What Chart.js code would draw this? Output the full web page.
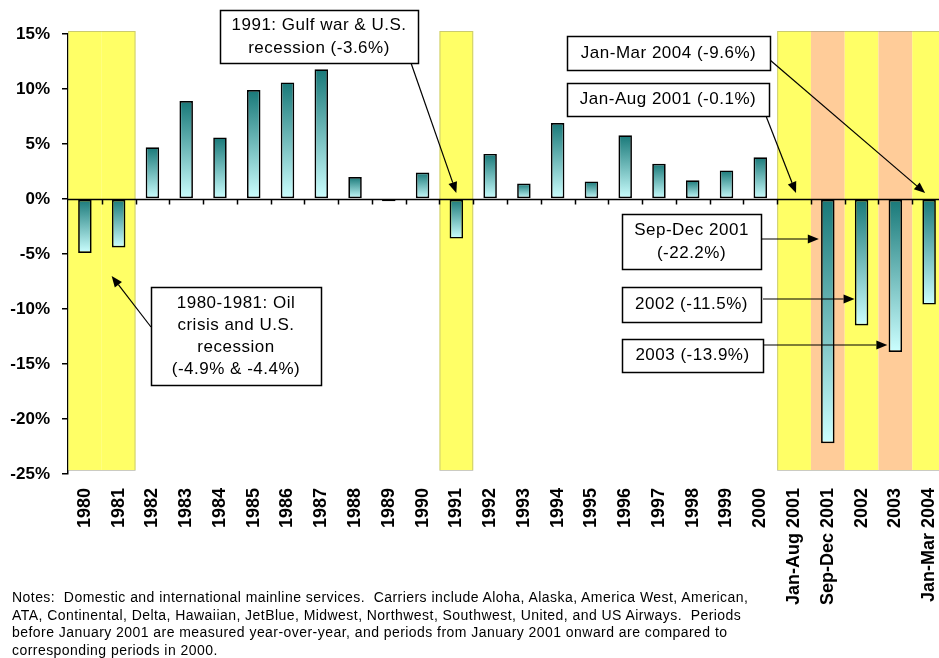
<!DOCTYPE html>
<html>
<head>
<meta charset="utf-8">
<script src="https://cdn.jsdelivr.net/npm/chart.js@4.4.1/dist/chart.umd.min.js"></script>
<style>
  html, body { margin: 0; padding: 0; background: #fff; overflow: hidden; }
  #wrap { position: relative; width: 946px; height: 610px; }
  #notes {
    position: absolute; left: 12px; top: 589px;
    font-family: "Liberation Sans", Arial, sans-serif; font-size: 14px;
    letter-spacing: 0.45px; line-height: 17.5px; color: #000; white-space: nowrap;
  }
</style>
</head>
<body>
<div id="wrap"><canvas id="myChart"></canvas></div>
<div id="notes">
Notes:&nbsp; Domestic and international mainline services.&nbsp; Carriers include Aloha, Alaska, America West, American,<br>
ATA, Continental, Delta, Hawaiian, JetBlue, Midwest, Northwest, Southwest, United, and US Airways.&nbsp; Periods<br>
before January 2001 are measured year-over-year, and periods from January 2001 onward are compared to<br>
corresponding periods in 2000.
</div>
<script>
// periods on the x axis
var periods = ['1980', '1981', '1982', '1983', '1984', '1985', '1986', '1987', '1988', '1989',
    '1990', '1991', '1992', '1993', '1994', '1995', '1996', '1997', '1998', '1999', '2000',
    'Jan-Aug 2001', 'Sep-Dec 2001', '2002', '2003', 'Jan-Mar 2004'];

// percent change in traffic
var changes = [-4.9, -4.4, 4.7, 8.9, 5.6, 9.9, 10.6, 11.8, 2.0, -0.2,
    2.4, -3.6, 4.1, 1.4, 6.9, 1.6, 5.8, 3.2, 1.7, 2.6, 3.8,
    -0.1, -22.2, -11.5, -13.9, -9.6];

var yTicks = [15, 10, 5, 0, -5, -10, -15, -20, -25];

// shaded periods behind the bars
var yellowPeriods = ['1980', '1981', '1991', 'Jan-Aug 2001', '2002', 'Jan-Mar 2004'];
var salmonPeriods = ['Sep-Dec 2001', '2003'];

// callout boxes: text, box (x, y, w, h), arrow start and which bar it points at
var callouts = [
    { lines: ['1991: Gulf war & U.S.', 'recession (-3.6%)'], box: [220, 10, 198, 53],
      from: [411, 63], cat: '1991', val: 0, dx: 0, dy: -6 },
    { lines: ['1980-1981: Oil', 'crisis and U.S.', 'recession', '(-4.9% & -4.4%)'], box: [151, 287, 170, 98],
      from: [151, 327], cat: '1981', val: -7, dx: -7, dy: 0 },
    { lines: ['Jan-Mar 2004 (-9.6%)'], box: [567, 36, 203, 34],
      from: [770, 60], cat: 'Jan-Mar 2004', val: 0, dx: -4, dy: -6 },
    { lines: ['Jan-Aug 2001 (-0.1%)'], box: [567, 83, 202, 33],
      from: [766, 116], cat: 'Jan-Aug 2001', val: 0, dx: 2, dy: -6 },
    { lines: ['Sep-Dec 2001', '(-22.2%)'], box: [622, 214, 139, 55],
      from: [761, 239], cat: 'Sep-Dec 2001', val: null, dx: -9, dy: 0 },
    { lines: ['2002 (-11.5%)'], box: [622, 287, 139, 35],
      from: [763, 299], cat: '2002', val: null, dx: -7, dy: 0 },
    { lines: ['2003 (-13.9%)'], box: [622, 339, 141, 33],
      from: [763, 345], cat: '2003', val: null, dx: -8, dy: 0 }
];

var DARK = '#187878';
var LIGHT = '#ccffff';
var FONT = '"Liberation Sans", Arial, sans-serif';

function barFill(context) {
    var chart = context.chart;
    if (!chart.chartArea) return DARK;
    var y = chart.scales.y;
    var y0 = y.getPixelForValue(0);
    var y1 = y.getPixelForValue(context.raw);
    var top = Math.min(y0, y1), bot = Math.max(y0, y1);
    if (bot - top < 2) return DARK;
    var g = chart.ctx.createLinearGradient(0, top, 0, bot);
    g.addColorStop(0, DARK);
    g.addColorStop(1, LIGHT);
    return g;
}

function drawArrow(ctx, x1, y1, x2, y2) {
    var ang = Math.atan2(y2 - y1, x2 - x1);
    var len = 11, half = 4.5;
    var bx = x2 - len * Math.cos(ang), by = y2 - len * Math.sin(ang);
    ctx.beginPath();
    ctx.moveTo(x1, y1);
    ctx.lineTo(bx, by);
    ctx.stroke();
    ctx.beginPath();
    ctx.moveTo(x2, y2);
    ctx.lineTo(bx + half * Math.sin(ang), by - half * Math.cos(ang));
    ctx.lineTo(bx - half * Math.sin(ang), by + half * Math.cos(ang));
    ctx.closePath();
    ctx.fill();
}

// background bands for recession periods, zero line and callouts
var bandsPlugin = {
    id: 'bands',
    beforeDatasetsDraw: function(chart) {
        var ctx = chart.ctx, x = chart.scales.x, area = chart.chartArea;
        var w = (area.right - area.left) / periods.length;
        var top = area.top - 3, bot = area.bottom - 4;
        ctx.save();
        periods.forEach(function(p, i) {
            var color = null;
            if (yellowPeriods.indexOf(p) >= 0) color = '#ffff66';
            if (salmonPeriods.indexOf(p) >= 0) color = '#ffcc99';
            if (!color) return;
            var cx = x.getPixelForValue(i);
            ctx.fillStyle = color;
            ctx.fillRect(cx - w / 2, top, w, bot - top);
        });
        // faint outline round each run of shaded periods
        ctx.strokeStyle = 'rgba(140,140,120,0.45)';
        ctx.lineWidth = 1;
        var start = -1;
        for (var i = 0; i <= periods.length; i++) {
            var shaded = i < periods.length &&
                (yellowPeriods.indexOf(periods[i]) >= 0 || salmonPeriods.indexOf(periods[i]) >= 0);
            if (shaded && start < 0) start = i;
            if (!shaded && start >= 0) {
                var l = x.getPixelForValue(start) - w / 2;
                var r = x.getPixelForValue(i - 1) + w / 2;
                ctx.strokeRect(l + 0.5, top + 0.5, r - l - 1, bot - top);
                start = -1;
            }
        }
        ctx.restore();
    },
    afterDatasetsDraw: function(chart) {
        var ctx = chart.ctx, x = chart.scales.x, y = chart.scales.y, area = chart.chartArea;
        var w = (area.right - area.left) / periods.length;
        var y0 = Math.round(y.getPixelForValue(0)) + 0.5;
        ctx.save();
        // zero line with tick marks between periods
        ctx.strokeStyle = '#000';
        ctx.lineWidth = 1.5;
        ctx.beginPath();
        ctx.moveTo(area.left, y0);
        ctx.lineTo(area.right, y0);
        for (var i = 1; i < periods.length; i++) {
            var tx = Math.round(x.getPixelForValue(i) - w / 2) + 0.5;
            ctx.moveTo(tx, y0);
            ctx.lineTo(tx, y0 + 5);
        }
        ctx.stroke();

        // callouts
        ctx.lineWidth = 1.2;
        ctx.fillStyle = '#000';
        callouts.forEach(function(c) {
            var idx = periods.indexOf(c.cat);
            var tx = x.getPixelForValue(idx) + c.dx;
            var ty = c.val === null ? c.from[1] : y.getPixelForValue(c.val) + c.dy;
            drawArrow(ctx, c.from[0], c.from[1], tx, ty);
        });
        callouts.forEach(function(c) {
            var b = c.box;
            ctx.fillStyle = '#fff';
            ctx.fillRect(b[0], b[1], b[2], b[3]);
            ctx.strokeStyle = '#000';
            ctx.lineWidth = 1.5;
            ctx.strokeRect(b[0] + 0.5, b[1] + 0.5, b[2], b[3]);
            ctx.fillStyle = '#000';
            ctx.font = '17px ' + FONT;
            ctx.letterSpacing = '0.5px';
            ctx.textAlign = 'center';
            ctx.textBaseline = 'middle';
            var lh = c.lines.length > 2 ? 22 : 23;
            var startY = b[1] + b[3] / 2 - (c.lines.length - 1) * lh / 2;
            c.lines.forEach(function(t, k) {
                ctx.fillText(t, b[0] + b[2] / 2, startY + k * lh);
            });
        });
        ctx.restore();
    }
};

var ctx = document.getElementById('myChart').getContext('2d');
var myChart = new Chart(ctx, {
    type: 'bar',
    data: {
        labels: periods,
        datasets: [{
            data: changes,
            backgroundColor: barFill,
            borderColor: '#000',
            borderWidth: 1.7,
            borderSkipped: false,
            barPercentage: 0.4,
            categoryPercentage: 1.0
        }]
    },
    options: {
        responsive: true,
        maintainAspectRatio: false,
        animation: false,
        layout: { padding: { top: 34, left: 0, right: 0, bottom: 0 } },
        plugins: { legend: { display: false }, tooltip: { enabled: false } },
        scales: {
            x: {
                grid: { display: false },
                border: { display: false },
                ticks: {
                    autoSkip: false, minRotation: 90, maxRotation: 90, padding: 6,
                    color: '#000', font: { family: FONT, size: 18, weight: 'bold' }
                },
                afterFit: function(scale) {
                    scale.height = 136;
                    scale.paddingLeft = 0;
                    scale.paddingRight = 0;
                }
            },
            y: {
                min: -25, max: 15,
                afterBuildTicks: function(scale) {
                    scale.ticks = yTicks.map(function(v) { return { value: v }; });
                },
                grid: { drawOnChartArea: false, color: '#000', tickLength: 6, lineWidth: 1.5 },
                border: { color: '#000', width: 1.5 },
                ticks: {
                    padding: 12, color: '#000',
                    font: { family: FONT, size: 17, weight: 'bold' },
                    callback: function(v) { return v + '%'; }
                },
                afterFit: function(scale) { scale.width = 68; }
            }
        }
    },
    plugins: [bandsPlugin]
});
</script>
</body>
</html>
